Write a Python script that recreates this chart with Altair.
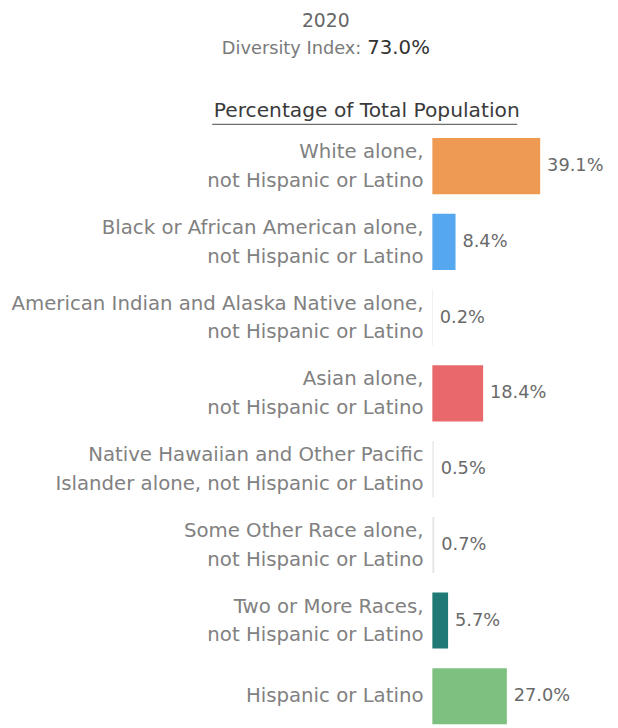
import altair as alt
import pandas as pd

categories = [
    "White",
    "Black",
    "AIAN",
    "Asian",
    "NHPI",
    "Other",
    "Two",
    "Hispanic",
]
label_line1 = [
    "White alone,",
    "Black or African American alone,",
    "American Indian and Alaska Native alone,",
    "Asian alone,",
    "Native Hawaiian and Other Pacific",
    "Some Other Race alone,",
    "Two or More Races,",
    "",
]
label_line2 = [
    "not Hispanic or Latino",
    "not Hispanic or Latino",
    "not Hispanic or Latino",
    "not Hispanic or Latino",
    "Islander alone, not Hispanic or Latino",
    "not Hispanic or Latino",
    "not Hispanic or Latino",
    "",
]
label_single = ["", "", "", "", "", "", "", "Hispanic or Latino"]
values = [39.1, 8.4, 0.2, 18.4, 0.5, 0.7, 5.7, 27.0]
colors = ["#EE9A52", "#55A8F0", "#E6E6E6", "#E9686B", "#E6E6E6", "#E6E6E6", "#1F7A76", "#7EC07F"]
year_text = "2020"
index_label = "Diversity Index:"
index_value = "73.0%"
x_title = "Percentage of Total Population"

FONT = "DejaVu Sans"
LABEL_SIZE = 20
LABEL_COLOR = "#818181"

df = pd.DataFrame({
    "cat": categories,
    "l1": label_line1,
    "l2": label_line2,
    "ls": label_single,
    "value": values,
    "color": colors,
    "label": [f"{v:.1f}%" for v in values],
})

y_enc = alt.Y(
    "cat:N",
    sort=categories,
    scale=alt.Scale(paddingInner=0.26, paddingOuter=0.13),
    axis=None,
)

x_enc = alt.X(
    "value:Q",
    scale=alt.Scale(domain=[0, 64.4], nice=False),
    axis=alt.Axis(
        orient="top",
        title=x_title,
        titleFont=FONT,
        titleFontSize=20.5,
        titleFontWeight="normal",
        titleColor="#3a3a3a",
        titleX=-67,
        titleY=-8,
        titleAlign="center",
        titleBaseline="bottom",
        labels=False,
        ticks=False,
        domain=False,
        grid=False,
    ),
)

base = alt.Chart(df).encode(y=y_enc)

bars = base.mark_bar().encode(
    x=x_enc,
    color=alt.Color("color:N", scale=None),
)

vals = base.mark_text(
    align="left", baseline="middle", dx=7, font=FONT, fontSize=18, color="#6a6a6a"
).encode(x=alt.X("value:Q"), text="label:N")

lab1 = base.mark_text(
    align="right", baseline="middle", dy=-14, font=FONT, fontSize=LABEL_SIZE, color=LABEL_COLOR
).encode(x=alt.value(-9), text="l1:N")
lab2 = base.mark_text(
    align="right", baseline="middle", dy=15, font=FONT, fontSize=LABEL_SIZE, color=LABEL_COLOR
).encode(x=alt.value(-9), text="l2:N")
labs = base.mark_text(
    align="right", baseline="middle", dy=0, font=FONT, fontSize=LABEL_SIZE, color=LABEL_COLOR
).encode(x=alt.value(-9), text="ls:N")

one = pd.DataFrame({"year": [year_text], "il": [index_label], "iv": [index_value]})

year_mark = alt.Chart(one).mark_text(
    align="center", baseline="middle", font=FONT, fontSize=19, color="#666666"
).encode(x=alt.value(-108), y=alt.value(-109), text="year:N")

idx_label = alt.Chart(one).mark_text(
    align="right", baseline="middle", font=FONT, fontSize=18, color="#7a7a7a"
).encode(x=alt.value(-72), y=alt.value(-80), text="il:N")

idx_value = alt.Chart(one).mark_text(
    align="left", baseline="middle", font=FONT, fontSize=20, color="#333333"
).encode(x=alt.value(-66), y=alt.value(-81), text="iv:N")

underline = alt.Chart(one).mark_rule(color="#444444", strokeWidth=1).encode(
    x=alt.value(-223), x2=alt.value(86), y=alt.value(-4)
)

chart = alt.layer(bars, vals, lab1, lab2, labs, year_mark, idx_label, idx_value, underline).properties(
    width=180,
    height=614,
    autosize=alt.AutoSizeParams(type="none"),
    padding={"left": 430, "top": 117, "right": 0, "bottom": 0},
).configure_view(stroke=None)

chart.save("out.html", embed_options={"renderer": "svg", "actions": False})
